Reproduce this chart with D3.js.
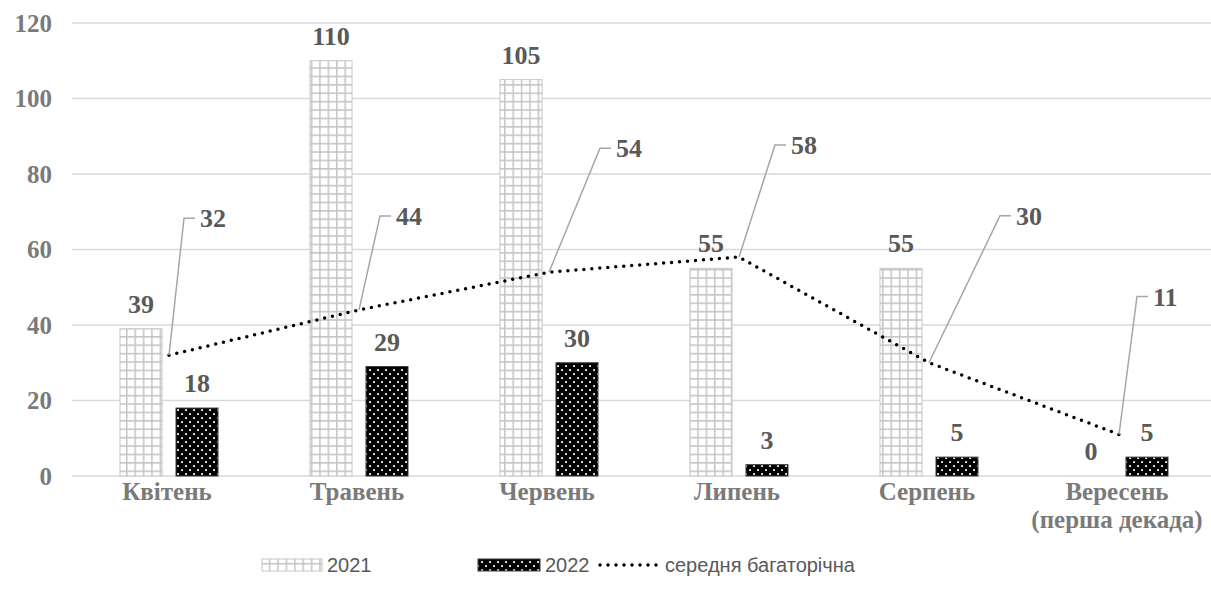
<!DOCTYPE html>
<html>
<head>
<meta charset="utf-8">
<style>
  body { margin: 0; background: #fff; }
  svg { display: block; }
  .serif { font-family: "Liberation Serif", "DejaVu Serif", serif; font-weight: bold; }
  .sans { font-family: "Liberation Sans", Arial, sans-serif; }
</style>
</head>
<body>
<svg width="1211" height="603"></svg>
<script src="https://d3js.org/d3.v7.min.js"></script>
<script>
var months = ["Квітень", "Травень", "Червень", "Липень", "Серпень", "Вересень|(перша декада)"];
var years = ["2021", "2022"];
var values2021 = [39, 110, 105, 55, 55, 0];
var values2022 = [18, 29, 30, 3, 5, 5];
var average = [32, 44, 54, 58, 30, 11];
var yTicks = [0, 20, 40, 60, 80, 100, 120];
// where the callout labels of the average line sit, relative to the point
var avgLabelOffset = [[47, -137], [53, -94], [83, -124], [68, -112], [103, -147], [50, -138]];

var svg = d3.select("svg"),
    width = +svg.attr("width"),
    height = +svg.attr("height");

var defs = svg.append("defs");
// grid pattern for 2021
var pGrid = defs.append("pattern")
    .attr("id", "grid")
    .attr("patternUnits", "userSpaceOnUse")
    .attr("width", 8.4).attr("height", 8.4);
pGrid.append("rect").attr("width", 8.4).attr("height", 8.4).attr("fill", "#fff");
pGrid.append("path")
    .attr("d", "M0,0.75H8.4M0.75,0V8.4")
    .attr("stroke", "#c6c6c6").attr("stroke-width", 1.6);
// dotted pattern for 2022
var pDots = defs.append("pattern")
    .attr("id", "dots")
    .attr("patternUnits", "userSpaceOnUse")
    .attr("width", 8).attr("height", 8);
pDots.append("rect").attr("width", 8).attr("height", 8).attr("fill", "#000");
pDots.append("rect").attr("x", 1.2).attr("y", 1.2).attr("width", 1.8).attr("height", 1.8).attr("fill", "#fff");
pDots.append("rect").attr("x", 5.2).attr("y", 5.2).attr("width", 1.8).attr("height", 1.8).attr("fill", "#fff");

var x = d3.scaleBand().domain(months).range([72, 1212]);
var x1 = d3.scaleBand().domain(years).range([48, 146]).paddingInner(0.25);
var y = d3.scaleLinear().domain([0, 120]).range([476, 23]);

// gridlines
svg.append("g").selectAll("line")
  .data(yTicks)
  .enter().append("line")
    .attr("x1", 72).attr("x2", 1211)
    .attr("y1", function(d) { return y(d); })
    .attr("y2", function(d) { return y(d); })
    .attr("stroke", "#d9d9d9").attr("stroke-width", 1.5);

// y labels
svg.append("g").selectAll("text")
  .data(yTicks)
  .enter().append("text")
    .attr("class", "serif")
    .attr("x", 52)
    .attr("y", function(d) { return y(d); })
    .attr("dy", "0.35em")
    .attr("text-anchor", "end")
    .attr("font-size", 25)
    .attr("fill", "#7a7a7a")
    .text(function(d) { return d; });

// x labels
var xl = svg.append("g").selectAll("text")
  .data(months)
  .enter().append("text")
    .attr("class", "serif")
    .attr("x", function(d) { return x(d) + x.bandwidth() / 2; })
    .attr("y", 500)
    .attr("text-anchor", "middle")
    .attr("font-size", 25)
    .attr("fill", "#7a7a7a");
xl.selectAll("tspan")
  .data(function(d) { return d.split("|"); })
  .enter().append("tspan")
    .attr("x", function() { var p = d3.select(this.parentNode).datum(); return x(p) + x.bandwidth() / 2; })
    .attr("dy", function(d, i) { return i ? 28 : 0; })
    .text(function(d) { return d; });

var series = [
  {key: "2021", values: values2021, fill: "url(#grid)", stroke: "#c6c6c6"},
  {key: "2022", values: values2022, fill: "url(#dots)", stroke: "#3a3a3a"}
];

series.forEach(function(s) {
  var g = svg.append("g");
  g.selectAll("rect")
    .data(s.values)
    .enter().append("rect")
      .attr("x", function(d, i) { return x(months[i]) + x1(s.key); })
      .attr("y", function(d) { return y(d); })
      .attr("width", x1.bandwidth())
      .attr("height", function(d) { return y(0) - y(d); })
      .attr("fill", s.fill)
      .attr("stroke", s.stroke).attr("stroke-width", d => d > 0 ? 1 : 0);
  g.selectAll("text")
    .data(s.values)
    .enter().append("text")
      .attr("class", "serif")
      .attr("x", function(d, i) { return x(months[i]) + x1(s.key) + x1.bandwidth() / 2; })
      .attr("y", function(d) { return y(d) - 16; })
      .attr("text-anchor", "middle")
      .attr("font-size", 26)
      .attr("fill", "#595959")
      .text(function(d) { return d; });
});

// average line
var cx = function(i) { return x(months[i]) + x.bandwidth() / 2 + 2; };
var line = d3.line()
    .x(function(d, i) { return cx(i); })
    .y(function(d) { return y(d); });

svg.append("path")
    .datum(average)
    .attr("d", line)
    .attr("fill", "none")
    .attr("stroke", "#000")
    .attr("stroke-width", 3.5)
    .attr("stroke-linecap", "round")
    .attr("stroke-dasharray", "0,8");

// callouts
var call = svg.append("g");
average.forEach(function(d, i) {
  var px = cx(i), py = y(d);
  var lx = px + avgLabelOffset[i][0], ly = py + avgLabelOffset[i][1];
  call.append("path")
    .attr("d", "M" + px + "," + py + "L" + (lx - 32) + "," + ly + "H" + (lx - 21))
    .attr("fill", "none")
    .attr("stroke", "#a6a6a6").attr("stroke-width", 1.5);
  call.append("text")
    .attr("class", "serif")
    .attr("x", lx - 16).attr("y", ly)
    .attr("dy", "0.35em")
    .attr("font-size", 26)
    .attr("fill", "#595959")
    .text(d);
});

// legend
var lg = svg.append("g").attr("class", "sans").attr("font-size", 20).attr("fill", "#595959");
lg.append("rect").attr("x", 262).attr("y", 559).attr("width", 60).attr("height", 12)
  .attr("fill", "url(#grid)").attr("stroke", "#c6c6c6");
lg.append("text").attr("x", 327).attr("y", 565).attr("dy", "0.35em").text("2021");
lg.append("rect").attr("x", 478).attr("y", 559).attr("width", 62).attr("height", 12)
  .attr("fill", "url(#dots)").attr("stroke", "#3a3a3a");
lg.append("text").attr("x", 545).attr("y", 565).attr("dy", "0.35em").text("2022");
lg.append("line").attr("x1", 600).attr("x2", 659).attr("y1", 565).attr("y2", 565)
  .attr("stroke", "#000").attr("stroke-width", 3.5)
  .attr("stroke-linecap", "round").attr("stroke-dasharray", "0,8");
lg.append("text").attr("x", 665).attr("y", 565).attr("dy", "0.35em").text("середня багаторічна");
</script>
</body>
</html>
